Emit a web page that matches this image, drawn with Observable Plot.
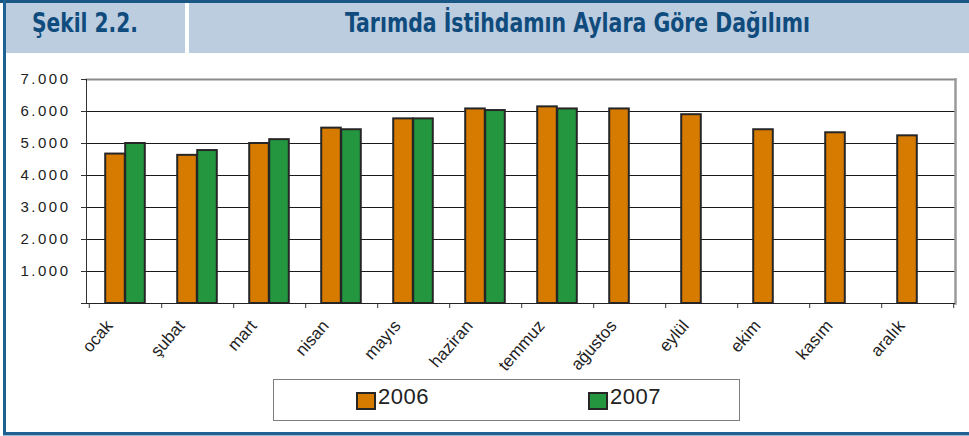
<!DOCTYPE html>
<html>
<head>
<meta charset="utf-8">
<script src="https://cdn.jsdelivr.net/npm/d3@7"></script>
<script src="https://cdn.jsdelivr.net/npm/@observablehq/plot@0.6"></script>
<style>
  html, body { margin: 0; padding: 0; background: #fff; }
  #page { position: relative; width: 969px; height: 436px; overflow: hidden; background: #fff; font-family: "Liberation Sans", Arial, sans-serif; }
  .bar-top { position: absolute; left: 0; top: 0; width: 969px; height: 3px; background: #1a5785; }
  .bar-left { position: absolute; left: 3px; top: 0; width: 3px; height: 436px; background: #1f6192; }
  .bar-bottom { position: absolute; left: 3px; top: 432px; width: 966px; height: 3px; background: #1f6192; }
  .bar-bottom2 { position: absolute; left: 3px; top: 435px; width: 966px; height: 1px; background: #9dbad3; }
  .hbox { position: absolute; top: 3px; height: 50px; background: #bccde0; }
  #header { position: absolute; left: 0; top: 0; }
  #chart { position: absolute; left: 0; top: 60px; }
  #legend { position: absolute; left: 273px; top: 379px; width: 465px; height: 40px; border: 1px solid #7f7f7f; box-sizing: content-box; }
  .lg-item { position: absolute; top: 0; height: 40px; }
  .lg-sw { position: absolute; top: 12px; width: 16px; height: 14px; border: 2px solid #262626; }
  .lg-tx { position: absolute; left: 22px; top: 5px; font-size: 22px; line-height: 24px; color: #222; white-space: nowrap; letter-spacing: 0.5px; }
  g[aria-label="y-axis tick label"] text { letter-spacing: 2.5px; }
</style>
</head>
<body>
<div id="page">
  <div class="hbox" style="left:6px; width:179px;"></div>
  <div class="hbox" style="left:189px; width:780px;"></div>
  <svg id="header" width="969" height="60">
    <text x="32" y="32" font-family="'Liberation Sans Narrow','DejaVu Sans Condensed','Liberation Sans',sans-serif" font-weight="bold" font-size="26" fill="#0f4c7d" textLength="106" lengthAdjust="spacingAndGlyphs">Şekil 2.2.</text>
    <text x="345" y="32" font-family="'Liberation Sans Narrow','DejaVu Sans Condensed','Liberation Sans',sans-serif" font-weight="bold" font-size="26" fill="#0f4c7d" textLength="465" lengthAdjust="spacingAndGlyphs">Tarımda İstihdamın Aylara Göre Dağılımı</text>
  </svg>
  <div id="chart"></div>
  <div id="legend"></div>
  <div class="bar-top"></div>
  <div class="bar-left"></div>
  <div class="bar-bottom"></div>
  <div class="bar-bottom2"></div>
</div>
<script>
// ---- data ----
const months = ["ocak", "şubat", "mart", "nisan", "mayıs", "haziran", "temmuz", "ağustos", "eylül", "ekim", "kasım", "aralık"];
const years = ["2006", "2007"];
const values2006 = [4670, 4630, 5000, 5480, 5770, 6080, 6145, 6080, 5900, 5430, 5335, 5240];
const values2007 = [5000, 4780, 5120, 5430, 5770, 6030, 6080];
const yTicks = [0, 1000, 2000, 3000, 4000, 5000, 6000, 7000];
const colors = ["#d67a00", "#23963f"];

// ---- layout ----
const W = 969, H = 310, ML = 86, MR = 14, MT = 19, MB = 67;
const step = (W - ML - MR) / months.length;
const barW = 20;
const inset = (step - barW) / 2;

const rows = [
  ...values2006.map((v, i) => ({month: months[i], year: years[0], value: v})),
  ...values2007.map((v, i) => ({month: months[i], year: years[1], value: v}))
];

const fmt = d => d === 0 ? "" : d3.format(",")(d).replace(/,/g, ".");

const chart = Plot.plot({
  width: W,
  height: H,
  marginLeft: ML,
  marginRight: MR,
  marginTop: MT,
  marginBottom: MB,
  style: {fontFamily: "'Liberation Sans', Arial, sans-serif", fontSize: "15px", color: "#222", background: "transparent", overflow: "visible"},
  x: {domain: months, padding: 0, label: null},
  y: {domain: [0, 7000], label: null},
  color: {domain: years, range: colors},
  marks: [
    Plot.gridY(yTicks.filter(d => d > 0 && d < 7000), {stroke: "#1a1a1a", strokeOpacity: 1}),
    Plot.frame({anchor: "top", stroke: "#8c8c8c", strokeWidth: 2}),
    Plot.frame({anchor: "right", stroke: "#9a9a9a", strokeWidth: 2.5}),
    Plot.barY(rows.filter(d => d.year === years[0]), {x: "month", y: "value", fill: "year", stroke: "#262626", strokeWidth: 2, insetLeft: inset, insetRight: inset, dx: -barW / 2}),
    Plot.barY(rows.filter(d => d.year === years[1]), {x: "month", y: "value", fill: "year", stroke: "#262626", strokeWidth: 2, insetLeft: inset, insetRight: inset, dx: barW / 2}),
    Plot.frame({anchor: "left", stroke: "#333"}),
    Plot.ruleY([0], {stroke: "#222"}),
    Plot.axisY({ticks: yTicks, tickSize: 5, tickPadding: 11, tickFormat: fmt, stroke: "#333", fill: "#222", fontSize: 15, label: null}),
    Plot.axisX({ticks: months, tickSize: 5, tickFormat: () => "", dx: step / 2, stroke: "#333", label: null}),
    Plot.axisX({ticks: months.slice(0, 1), tickSize: 5, tickFormat: () => "", dx: -step / 2, stroke: "#333", label: null}),
    Plot.text(months, {x: d => d, y: 0, text: d => d, rotate: -49, textAnchor: "end", lineAnchor: "top", dx: -21, dy: 15, fontSize: 17, fill: "#222"})
  ]
});
document.getElementById("chart").appendChild(chart);

// ---- legend ----
const legend = document.getElementById("legend");
const legendX = [82, 314];
years.forEach((y, i) => {
  const item = document.createElement("div");
  item.className = "lg-item";
  item.style.left = legendX[i] + "px";
  const sw = document.createElement("div");
  sw.className = "lg-sw";
  sw.style.background = colors[i];
  const tx = document.createElement("div");
  tx.className = "lg-tx";
  tx.textContent = y;
  item.appendChild(sw);
  item.appendChild(tx);
  legend.appendChild(item);
});
</script>
</body>
</html>
